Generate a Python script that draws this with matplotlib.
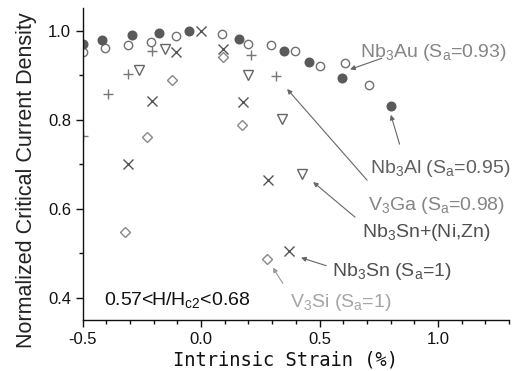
import matplotlib
matplotlib.use("Agg")
import matplotlib.pyplot as plt
from matplotlib.ticker import MultipleLocator

plt.rcParams['font.family'] = ['Liberation Sans', 'DejaVu Sans']
plt.rcParams['mathtext.fontset'] = 'custom'
plt.rcParams['mathtext.rm'] = 'Liberation Sans'
plt.rcParams['mathtext.it'] = 'Liberation Sans'
plt.rcParams['axes.unicode_minus'] = False

# Nb3Al, filled circles
nb3al_x = [-0.50, -0.42, -0.29, -0.18, -0.05, 0.16, 0.35, 0.455, 0.595, 0.80]
nb3al_y = [0.969, 0.979, 0.990, 0.995, 1.000, 0.982, 0.954, 0.930, 0.894, 0.831]

# Nb3Au, open circles
nb3au_x = [-0.50, -0.405, -0.31, -0.21, -0.105, 0.09, 0.20, 0.297, 0.397, 0.503, 0.608, 0.707]
nb3au_y = [0.951, 0.960, 0.968, 0.975, 0.988, 0.993, 0.969, 0.968, 0.954, 0.921, 0.927, 0.878]

# Nb3Sn, crosses
nb3sn_x = [-0.307, -0.209, -0.107, 0.00, 0.094, 0.176, 0.284, 0.369]
nb3sn_y = [0.700, 0.843, 0.951, 1.000, 0.958, 0.840, 0.665, 0.506]

# V3Ga, plus
v3ga_x = [-0.50, -0.392, -0.307, -0.209, 0.21, 0.317]
v3ga_y = [0.763, 0.858, 0.903, 0.955, 0.945, 0.898]

# Nb3Sn+(Ni,Zn), down triangles
nb3sn_ni_x = [-0.261, -0.152, 0.20, 0.341, 0.425]
nb3sn_ni_y = [0.912, 0.959, 0.900, 0.801, 0.678]

# V3Si, diamonds
v3si_x = [-0.321, -0.227, -0.121, 0.094, 0.172, 0.277]
v3si_y = [0.548, 0.760, 0.889, 0.940, 0.788, 0.487]

fig = plt.figure(figsize=(5.18, 3.71), dpi=100)
ax = fig.add_axes([0.1597, 0.1375, 0.8229, 0.841])

ax.plot(nb3au_x, nb3au_y, 'o', ms=6, mfc='white', mec='#707070', mew=1.0, ls='none')
ax.plot(nb3al_x, nb3al_y, 'o', ms=6.2, mfc='#5a5a5a', mec='#5a5a5a', ls='none')
ax.plot(nb3sn_x, nb3sn_y, 'x', ms=7, mec='#555555', mew=1.0, ls='none')
ax.plot(v3ga_x, v3ga_y, '+', ms=7, mec='#777777', mew=1.0, ls='none')
ax.plot(nb3sn_ni_x, nb3sn_ni_y, 'v', ms=7, mfc='white', mec='#666666', mew=1.0, ls='none')
ax.plot(v3si_x, v3si_y, 'D', ms=5.5, mfc='white', mec='#888888', mew=1.0, ls='none')

arrow = dict(arrowstyle='-|>', color='#666666', lw=0.8, mutation_scale=7, shrinkA=0, shrinkB=0)
ax.annotate('', xy=(0.629, 0.913), xytext=(0.763, 0.938), arrowprops=arrow)
ax.annotate('', xy=(0.801, 0.811), xytext=(0.838, 0.745), arrowprops=arrow)
ax.annotate('', xy=(0.363, 0.869), xytext=(0.701, 0.664), arrowprops=arrow)
ax.annotate('', xy=(0.473, 0.660), xytext=(0.650, 0.581), arrowprops=arrow)
ax.annotate('', xy=(0.422, 0.490), xytext=(0.528, 0.472), arrowprops=arrow)
ax.annotate('', xy=(0.303, 0.468), xytext=(0.345, 0.432), arrowprops=dict(arrow, color='#999999'))

fs = 14
ax.text(0.672, 0.952, r'Nb$_\mathrm{3}$Au (S$_\mathrm{a}$=0.93)', color='#858585', fontsize=fs, va='center')
ax.text(0.714, 0.691, r'Nb$_\mathrm{3}$Al (S$_\mathrm{a}$=0.95)', color='#606060', fontsize=fs, va='center')
ax.text(0.705, 0.608, r'V$_\mathrm{3}$Ga (S$_\mathrm{a}$=0.98)', color='#858585', fontsize=fs, va='center')
ax.text(0.680, 0.546, r'Nb$_\mathrm{3}$Sn+(Ni,Zn)', color='#505050', fontsize=fs, va='center')
ax.text(0.553, 0.458, r'Nb$_\mathrm{3}$Sn (S$_\mathrm{a}$=1)', color='#505050', fontsize=fs, va='center')
ax.text(0.376, 0.390, r'V$_\mathrm{3}$Si (S$_\mathrm{a}$=1)', color='#a5a5a5', fontsize=fs, va='center')
ax.text(-0.41, 0.395, r'0.57<H/H$_\mathrm{c2}$<0.68', color='#111111', fontsize=fs, va='center')

ax.set_xlim(-0.5, 1.30)
ax.set_ylim(0.35, 1.051)
ax.set_xticks([-0.5, 0.0, 0.5, 1.0])
ax.set_yticks([0.4, 0.6, 0.8, 1.0])
ax.xaxis.set_minor_locator(MultipleLocator(0.1))
ax.yaxis.set_minor_locator(MultipleLocator(0.1))
ax.tick_params(which='major', direction='out', length=5, width=1, labelsize=12, colors='#111111')
ax.tick_params(which='minor', direction='out', length=3, width=1, colors='#111111')

for s in ['top', 'right']:
    ax.spines[s].set_visible(False)
for s in ['left', 'bottom']:
    ax.spines[s].set_linewidth(1.0)
    ax.spines[s].set_color('#111111')

ax.set_xlabel('Intrinsic Strain (%)', family='DejaVu Sans Mono', fontsize=13.5, color='#111111')
ax.xaxis.set_label_coords(0.475, -0.097)
ax.set_ylabel('Normalized Critical Current Density', fontsize=15.5, color='#222222')
ax.yaxis.set_label_coords(-0.108, 0.449)

fig.savefig('out.png', dpi=100)
